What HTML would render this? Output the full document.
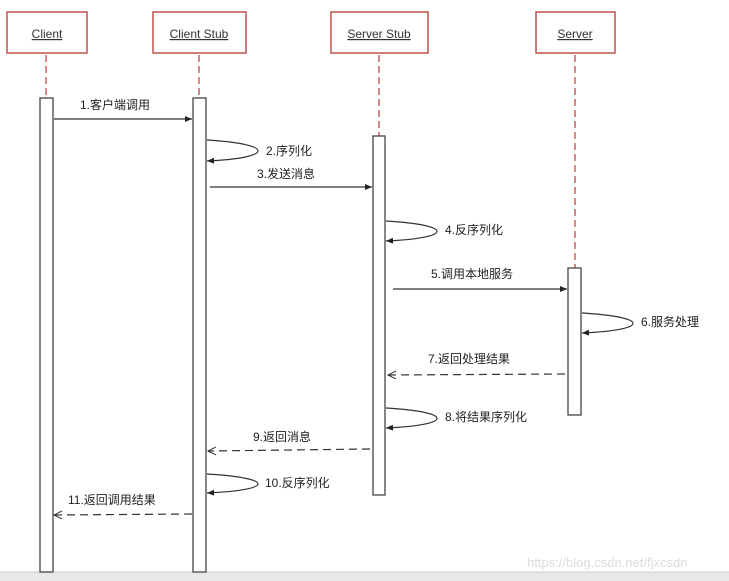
<!DOCTYPE html>
<html><head><meta charset="utf-8"><style>
html,body{margin:0;padding:0;background:#fff}
svg{display:block}
text{font-family:"Liberation Sans","Noto Sans CJK SC",sans-serif;font-size:12px;fill:#222}
</style></head><body>
<svg width="729" height="581" viewBox="0 0 729 581" xmlns="http://www.w3.org/2000/svg">
<defs>
<marker id="f" markerWidth="8" markerHeight="8" refX="7" refY="4" orient="auto" markerUnits="userSpaceOnUse"><path d="M0,1 L7,4 L0,7 z" fill="#222"/></marker>
<marker id="o" markerWidth="10" markerHeight="10" refX="9" refY="5" orient="auto" markerUnits="userSpaceOnUse"><path d="M1,1 L9,5 L1,9" fill="none" stroke="#333" stroke-width="1"/></marker>
</defs>
<rect x="0" y="572" width="729" height="9" fill="#e8e8e8"/>
<line x1="0" y1="572" x2="729" y2="572" stroke="#ccc"/>
<g fill="#fff" stroke="#c0504d" stroke-width="1.5">
<rect x="7" y="12" width="80" height="41"/>
<rect x="153" y="12" width="93" height="41"/>
<rect x="331" y="12" width="97" height="41"/>
<rect x="536" y="12" width="79" height="41"/>
</g>
<g style="font-size:14px;fill:#333" text-anchor="middle">
<text x="47" y="38" text-decoration="underline" style="fill:#333">Client</text>
<text x="199" y="38" text-decoration="underline" style="fill:#333">Client Stub</text>
<text x="379" y="38" text-decoration="underline" style="fill:#333">Server Stub</text>
<text x="575" y="38" text-decoration="underline" style="fill:#333">Server</text>
</g>
<g stroke="#b83a3a" stroke-dasharray="7,4" stroke-width="1.2">
<line x1="46" y1="55" x2="46" y2="98"/>
<line x1="199" y1="55" x2="199" y2="98"/>
<line x1="379" y1="55" x2="379" y2="136"/>
<line x1="575" y1="55" x2="575" y2="268"/>
</g>
<g fill="#fff" stroke="#444" stroke-width="1.3">
<rect x="40" y="98" width="13" height="474"/>
<rect x="193" y="98" width="13" height="474"/>
<rect x="373" y="136" width="12" height="359"/>
<rect x="568" y="268" width="13" height="147"/>
</g>
<g stroke="#333" stroke-width="1.2" fill="none">
<line x1="54" y1="119" x2="192" y2="119" marker-end="url(#f)"/>
<path d="M207,140 C275,144 275,158 207,161" marker-end="url(#f)"/>
<line x1="210" y1="187" x2="372" y2="187" marker-end="url(#f)"/>
<path d="M386,221 C454,225 454,238 386,241" marker-end="url(#f)"/>
<line x1="393" y1="289" x2="567" y2="289" marker-end="url(#f)"/>
<path d="M582,313 C650,317 650,330 582,333" marker-end="url(#f)"/>
<line x1="565" y1="374" x2="388" y2="375" stroke-dasharray="8,5" marker-end="url(#o)"/>
<path d="M386,408 C454,412 454,425 386,428" marker-end="url(#f)"/>
<line x1="370" y1="449" x2="208" y2="451" stroke-dasharray="8,5" marker-end="url(#o)"/>
<path d="M207,474 C275,478 275,490 207,493" marker-end="url(#f)"/>
<line x1="192" y1="514" x2="54" y2="515" stroke-dasharray="8,5" marker-end="url(#o)"/>
</g>
<text x="80" y="109">1.客户端调用</text>
<text x="266" y="155">2.序列化</text>
<text x="257" y="178">3.发送消息</text>
<text x="445" y="234">4.反序列化</text>
<text x="431" y="278">5.调用本地服务</text>
<text x="641" y="326">6.服务处理</text>
<text x="428" y="363">7.返回处理结果</text>
<text x="445" y="421">8.将结果序列化</text>
<text x="253" y="441">9.返回消息</text>
<text x="265" y="487">10.反序列化</text>
<text x="68" y="504">11.返回调用结果</text>
<text x="527" y="567" style="fill:#dcdcdc;font-size:13px">https://blog.csdn.net/fjxcsdn</text>
</svg>
</body></html>
